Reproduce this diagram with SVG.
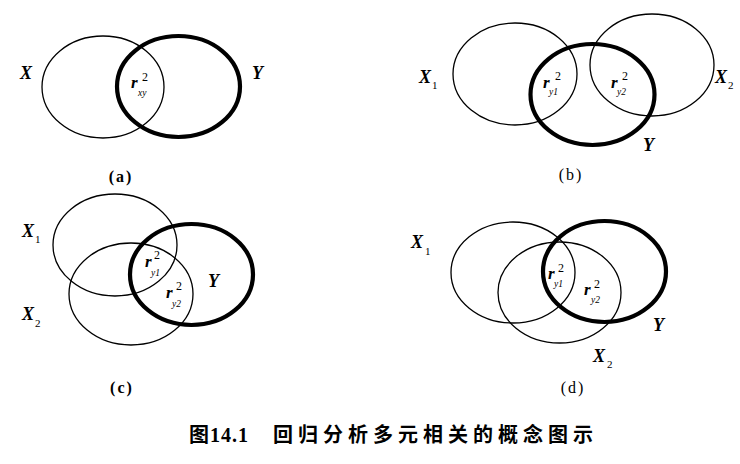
<svg xmlns="http://www.w3.org/2000/svg" width="740" height="464" viewBox="0 0 740 464">
<style>
.thin{fill:none;stroke:#000;stroke-width:1.3}
.thick{fill:none;stroke:#000;stroke-width:4.2}
.v{font-family:"Liberation Serif",serif;font-style:italic;font-weight:bold;font-size:18px;fill:#000}
.sub{font-family:"Liberation Serif",serif;font-size:11px;fill:#000}
.r{font-family:"Liberation Serif",serif;font-style:italic;font-weight:bold;font-size:17px;fill:#000}
.sup{font-family:"Liberation Serif",serif;font-size:12px;fill:#000}
.rs{font-family:"Liberation Serif",serif;font-style:italic;font-size:9.5px;fill:#000}
.lab{font-family:"Liberation Serif",serif;font-size:16px;fill:#000;text-anchor:middle;letter-spacing:2px}
.cap{font-family:"Noto Sans CJK SC","Liberation Sans",sans-serif;font-weight:bold;font-size:20px;fill:#000}
.capn{font-family:"Liberation Serif",serif;font-weight:bold;font-size:20px;fill:#000;letter-spacing:1px}
</style>
<rect width="740" height="464" fill="#fff"/>
<g id="panel-a">
<ellipse class="thin" cx="103" cy="87" rx="61" ry="51"/>
<ellipse class="thick" cx="178.5" cy="86.5" rx="61.5" ry="50.5"/>
<text class="v" x="20" y="79">X</text>
<text class="v" x="252" y="79">Y</text>
<text class="r" x="131" y="88">r</text><text class="sup" x="142" y="81">2</text><text class="rs" x="138" y="96">xy</text>
<text class="lab" x="121" y="182" font-weight="bold">(a)</text>
</g>
<g id="panel-b">
<ellipse class="thin" cx="515" cy="74" rx="62" ry="51"/>
<ellipse class="thin" cx="652" cy="65" rx="62" ry="51"/>
<ellipse class="thick" cx="592.5" cy="94.5" rx="62" ry="50.5"/>
<text class="v" x="419" y="83">X</text><text class="sub" x="432" y="89">1</text>
<text class="v" x="715" y="83">X</text><text class="sub" x="728" y="89">2</text>
<text class="v" x="643" y="151">Y</text>
<text class="r" x="543" y="88">r</text><text class="sup" x="555" y="80">2</text><text class="rs" x="549" y="95">y1</text>
<text class="r" x="611" y="88">r</text><text class="sup" x="622" y="80">2</text><text class="rs" x="617" y="95">y2</text>
<text class="lab" x="571" y="180">(b)</text>
</g>
<g id="panel-c">
<ellipse class="thin" cx="115" cy="245" rx="62" ry="51"/>
<ellipse class="thin" cx="131" cy="294" rx="62" ry="51"/>
<ellipse class="thick" cx="191.5" cy="274.5" rx="61.5" ry="50.5"/>
<text class="v" x="22" y="237">X</text><text class="sub" x="35" y="243">1</text>
<text class="v" x="22" y="320">X</text><text class="sub" x="35" y="327">2</text>
<text class="v" x="208" y="287">Y</text>
<text class="r" x="145" y="267">r</text><text class="sup" x="154" y="259">2</text><text class="rs" x="151" y="276">y1</text>
<text class="r" x="166" y="298">r</text><text class="sup" x="176" y="290">2</text><text class="rs" x="172" y="307">y2</text>
<text class="lab" x="122" y="393" font-weight="bold">(c)</text>
</g>
<g id="panel-d">
<ellipse class="thin" cx="513" cy="272.5" rx="62" ry="50.5"/>
<ellipse class="thin" cx="559.5" cy="292.5" rx="61.5" ry="50.5"/>
<ellipse class="thick" cx="604.5" cy="271.5" rx="61.5" ry="50.5"/>
<text class="v" x="411" y="248">X</text><text class="sub" x="425" y="255">1</text>
<text class="v" x="593" y="362">X</text><text class="sub" x="607" y="368">2</text>
<text class="v" x="653" y="331">Y</text>
<text class="r" x="548" y="279">r</text><text class="sup" x="558" y="272">2</text><text class="rs" x="554" y="287">y1</text>
<text class="r" x="584" y="295">r</text><text class="sup" x="594" y="288">2</text><text class="rs" x="591" y="303">y2</text>
<text class="lab" x="573" y="393">(d)</text>
</g>
<g id="connectors"></g>
<g id="caption">
<text class="cap" x="189" y="442">图</text>
<text class="capn" x="210" y="442">14.1</text>
<text class="cap" x="273" y="442" textLength="320" lengthAdjust="spacing">回归分析多元相关的概念图示</text>
</g>
</svg>
